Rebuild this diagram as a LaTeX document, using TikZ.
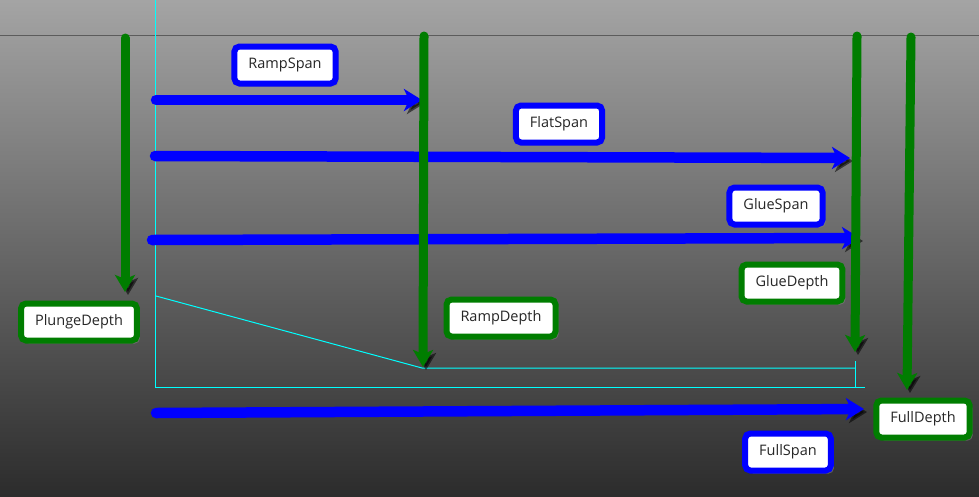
\documentclass[tikz,border=0pt]{standalone}
\usepackage{fontspec}
\setmainfont{Open Sans}
\definecolor{bgTop}{HTML}{A4A4A4}
\definecolor{bgBottom}{HTML}{2C2C2C}
\definecolor{spanBlue}{HTML}{0000FF}
\definecolor{depthGreen}{HTML}{007D00}
\definecolor{profileCyan}{HTML}{00FFFF}
\definecolor{rulerGray}{HTML}{5C5C5C}
\usepackage{tikz}
\usetikzlibrary{arrows.meta,shadows}

\begin{document}
\begin{tikzpicture}[x=1pt, y=-1pt,
      box/.style={rectangle, rounded corners=5pt, fill=white, line width=6pt,
                  minimum height=37pt, inner xsep=14pt, align=center,
                  font=\fontsize{14.5}{16}\selectfont, text=black!85,
                  drop shadow={shadow xshift=3pt, shadow yshift=-3pt, opacity=.6}},
      spanbox/.style={box, draw=spanBlue},
      depthbox/.style={box, draw=depthGreen},
      shadowed/.style={preaction={draw=black, opacity=.55,
                  transform canvas={shift={(3pt,-3pt)}}}},
      spanarrow/.style={shadowed, draw=spanBlue, line width=10.5pt, line cap=round,
                  -{Stealth[length=18pt, width=22pt, inset=5pt]}},
      deptharrow/.style={shadowed, draw=depthGreen, line width=9pt, line cap=round,
                  -{Stealth[length=17pt, width=20pt, inset=4pt]}},
      profile/.style={draw=profileCyan, line width=1pt}
    ]
    \shade[top color=bgTop, bottom color=bgBottom] (0,0) rectangle (979,496);
    \useasboundingbox (0,0) rectangle (979,496);
    \draw[rulerGray, line width=1pt] (0,35.5) -- (979,35.5);

    % part profile
    \draw[profile] (155.5,0) -- (155.5,387) -- (865,387);
    \draw[profile] (156,296) -- (422,368) -- (855,368);
    \draw[profile] (855,361) -- (855,387);

    % end points of the arrows
    \coordinate (rampSpanA) at (156,100);
    \coordinate (rampSpanB) at (422,100);
    \coordinate (flatSpanA) at (155,156);
    \coordinate (flatSpanB) at (850,158);
    \coordinate (glueSpanA) at (152,240);
    \coordinate (glueSpanB) at (860,238);
    \coordinate (fullSpanA) at (156,413);
    \coordinate (fullSpanB) at (864,409);
    \coordinate (plungeA) at (125,38);
    \coordinate (plungeB) at (125,292);
    \coordinate (rampDepthA) at (424,36);
    \coordinate (rampDepthB) at (423,367);
    \coordinate (glueDepthA) at (857,36);
    \coordinate (glueDepthB) at (855,352);
    \coordinate (fullDepthA) at (911,37);
    \coordinate (fullDepthB) at (907,390);

    \draw[spanarrow] (rampSpanA) -- (rampSpanB);
    \draw[spanarrow] (flatSpanA) -- (flatSpanB);
    \draw[spanarrow] (glueSpanA) -- (glueSpanB);
    \draw[spanarrow] (fullSpanA) -- (fullSpanB);

    \draw[deptharrow] (plungeA) -- (plungeB);
    \draw[deptharrow] (rampDepthA) -- (rampDepthB);
    \draw[deptharrow] (glueDepthA) -- (glueDepthB);
    \draw[deptharrow] (fullDepthA) -- (fullDepthB);

    \node[spanbox] (rampSpan) at (285,65) {RampSpan};
    \node[spanbox] (flatSpan) at (559,124) {FlatSpan};
    \node[spanbox] (glueSpan) at (776,206) {GlueSpan};
    \node[spanbox] (fullSpan) at (788,452) {FullSpan};
    \node[depthbox] (plungeDepth) at (79,322) {PlungeDepth};
    \node[depthbox] (rampDepth) at (501,318) {RampDepth};
    \node[depthbox] (glueDepth) at (792,283) {GlueDepth};
    \node[depthbox] (fullDepth) at (923,419) {FullDepth};
  \end{tikzpicture}
\end{document}
